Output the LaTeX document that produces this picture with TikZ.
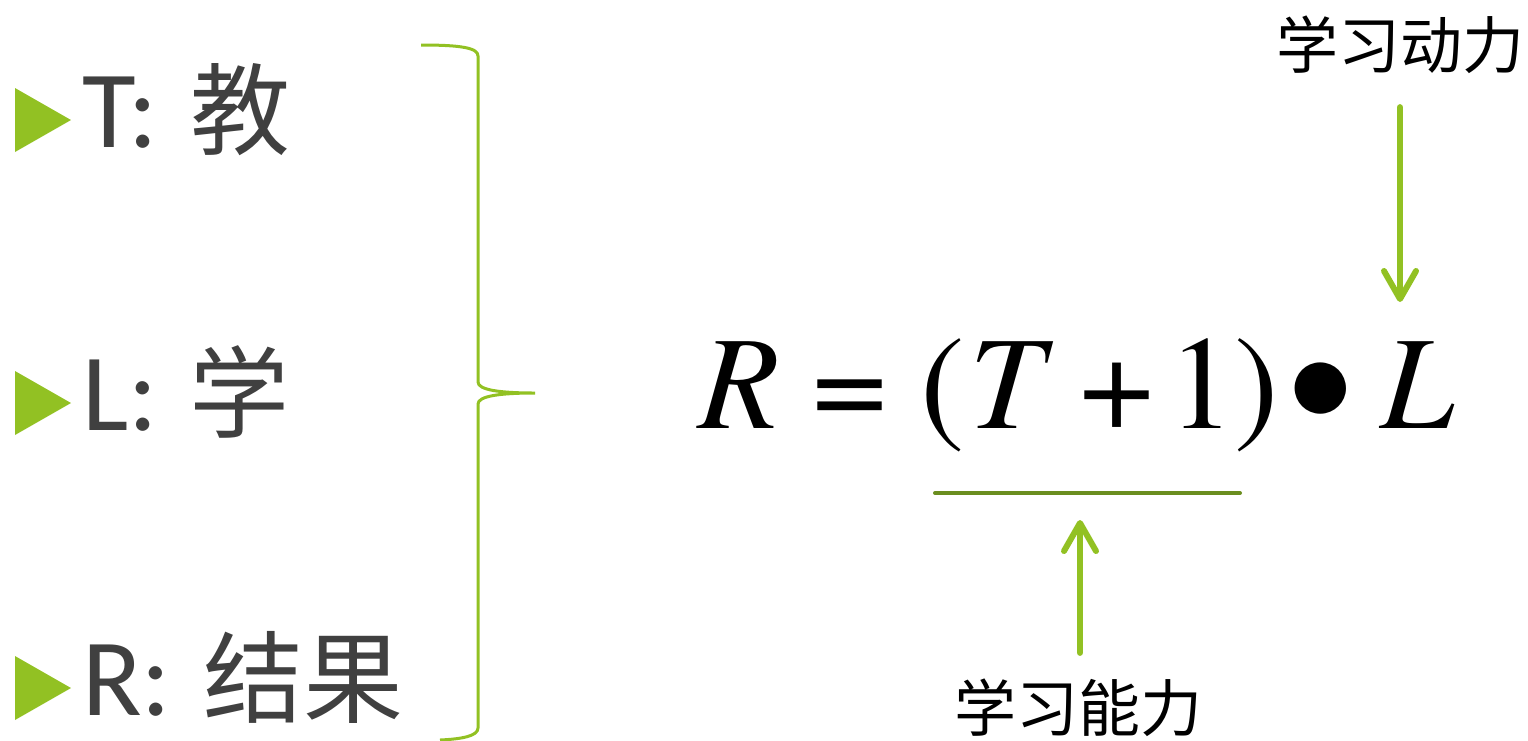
\documentclass[tikz,border=0pt]{standalone}
\usepackage{fontspec}
\setmainfont{Carlito}
\newfontfamily\lawfont{texgyretermes}[Extension=.otf,
  UprightFont=*-regular, ItalicFont=*-italic]
\newfontfamily\cjk{Noto Sans CJK SC}
\usetikzlibrary{arrows.meta,positioning}
\definecolor{leafgreen}{HTML}{92C123}
\definecolor{olivegreen}{HTML}{6B8E1F}
\definecolor{textgray}{HTML}{404040}
\begin{document}
\begin{tikzpicture}[x=1pt, y=-1pt,
    rowlabel/.style={anchor=base west, inner sep=0pt, text=textgray,
      font=\fontsize{110}{110}\selectfont},
    note/.style={inner sep=0pt, font=\cjk\fontsize{62}{62}\selectfont},
    powerarrow/.style={leafgreen, line width=6pt, line cap=round,
      -{Straight Barb[length=28pt, width=32pt, round]}}]
  \useasboundingbox (0,0) rectangle (1528,740);

  % --- 1. T, L, R ---
  \foreach \yc/\key/\word [count=\i] in {120/T/教, 403/L/学, 688/R/结果} {
    \fill[leafgreen] (15,\yc-32) -- (71,\yc) -- (15,\yc+32) -- cycle;
    \node[rowlabel] (row\i) at (82,\yc+27)
      {\key:\hspace{32pt}{\cjk\fontsize{100}{100}\selectfont\word}};
  }

  % 大括号
  \draw[leafgreen, line width=3pt]
    (421,45) .. controls (462,45) and (478,48) .. (478,56)
    -- (478,382) .. controls (478,390) and (500,393) .. (535,393)
    .. controls (500,393) and (478,396) .. (478,404)
    -- (478,728) .. controls (478,736) and (462,739) .. (440,740);

  % --- 2. 公式 R = (T+1) L ---
  \node[anchor=base west, inner sep=0pt, font=\lawfont\fontsize{133}{133}\selectfont]
    (law) at (698,428)
    {\textit{R} = (\kern4pt\textit{T}\hspace{26pt}+\hspace{14pt}1)\hspace{8pt}\raisebox{-23pt}{\scalebox{1.43}{•}}\hspace{27pt}\textit{L}};
  \coordinate (barL) at (935,493);
  \coordinate (barR) at (1240,493);
  \draw[olivegreen, line width=4pt, line cap=round] (barL) -- (barR);

  % --- 3. 学习能力 / 学习动力 ---
  \node[note] (ability) at (1078,708) {学习能力};
  \coordinate (abilityTip) at (1080,520);
  \draw[powerarrow, shorten <=26pt] (ability.north -| abilityTip) -- (abilityTip);

  \node[note] (motive) at (1400,45) {学习动力};
  \coordinate (motiveTip) at (1400,302);
  \draw[powerarrow, shorten <=33pt] (motive.south) -- (motiveTip);

\end{tikzpicture}
\end{document}
